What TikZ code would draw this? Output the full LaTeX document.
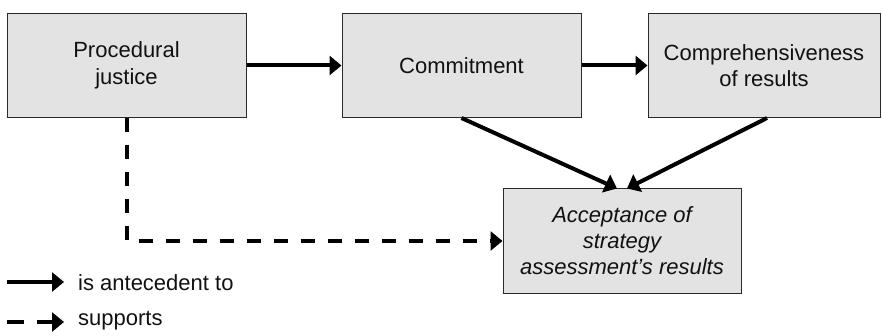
\documentclass[tikz,border=0pt]{standalone}
\usepackage{fontspec}
\setmainfont{Liberation Sans}
\usetikzlibrary{arrows.meta,positioning}
\definecolor{boxfill}{HTML}{E3E3E3}
\definecolor{boxline}{HTML}{2A2A2A}
\definecolor{txt}{HTML}{111111}
\begin{document}
\begin{tikzpicture}[x=1pt,y=-1pt,
  box/.style={draw=boxline,fill=boxfill,line width=1pt,minimum height=104pt,
    align=center,inner sep=2pt,text=txt,font=\fontsize{22}{26.5}\selectfont},
  conn/.style={line width=4pt,-{Triangle[length=12pt,width=19pt]}},
  dconn/.style={conn,dash pattern=on 14pt off 13pt},
  lbl/.style={anchor=west,inner sep=0pt,text=txt,font=\fontsize{22}{26}\selectfont}]
\useasboundingbox (0,0) rectangle (882,336);
\node[box,minimum width=239pt] (proc) at (126.5,65.5) {Procedural\\justice};
\node[box,minimum width=239pt] (commit) at (461.5,65.5) {Commitment};
\node[box,minimum width=232pt] (compr) at (764,65.5) {Comprehensiveness\\of results};
\node[box,minimum width=238pt,font=\fontsize{22}{26}\selectfont\itshape] (acc) at (622,241)
  {Acceptance of\\strategy\\assessment’s results};
\draw[conn] (proc.east) -- (commit.west);
\draw[conn] (commit.east) -- (compr.west);
\draw[conn] (commit.south) -- ([xshift=-5pt]acc.north);
\draw[conn] ([xshift=3pt]compr.south) -- ([xshift=5pt]acc.north);
\draw[dconn] (proc.south) |- (acc.west);
% legend
\coordinate (l1s) at (7,282);
\coordinate (l1e) at (64,282);
\coordinate (l2s) at (7,322);
\coordinate (l2e) at (64,322);
\draw[conn] (l1s) -- (l1e);
\draw[conn,dash pattern=on 17pt off 13pt] (l2s) -- (l2e);
\node[lbl] (t1) at (78,283) {is antecedent to};
\node[lbl] (t2) at (78,321) {supports};
\end{tikzpicture}
\end{document}
